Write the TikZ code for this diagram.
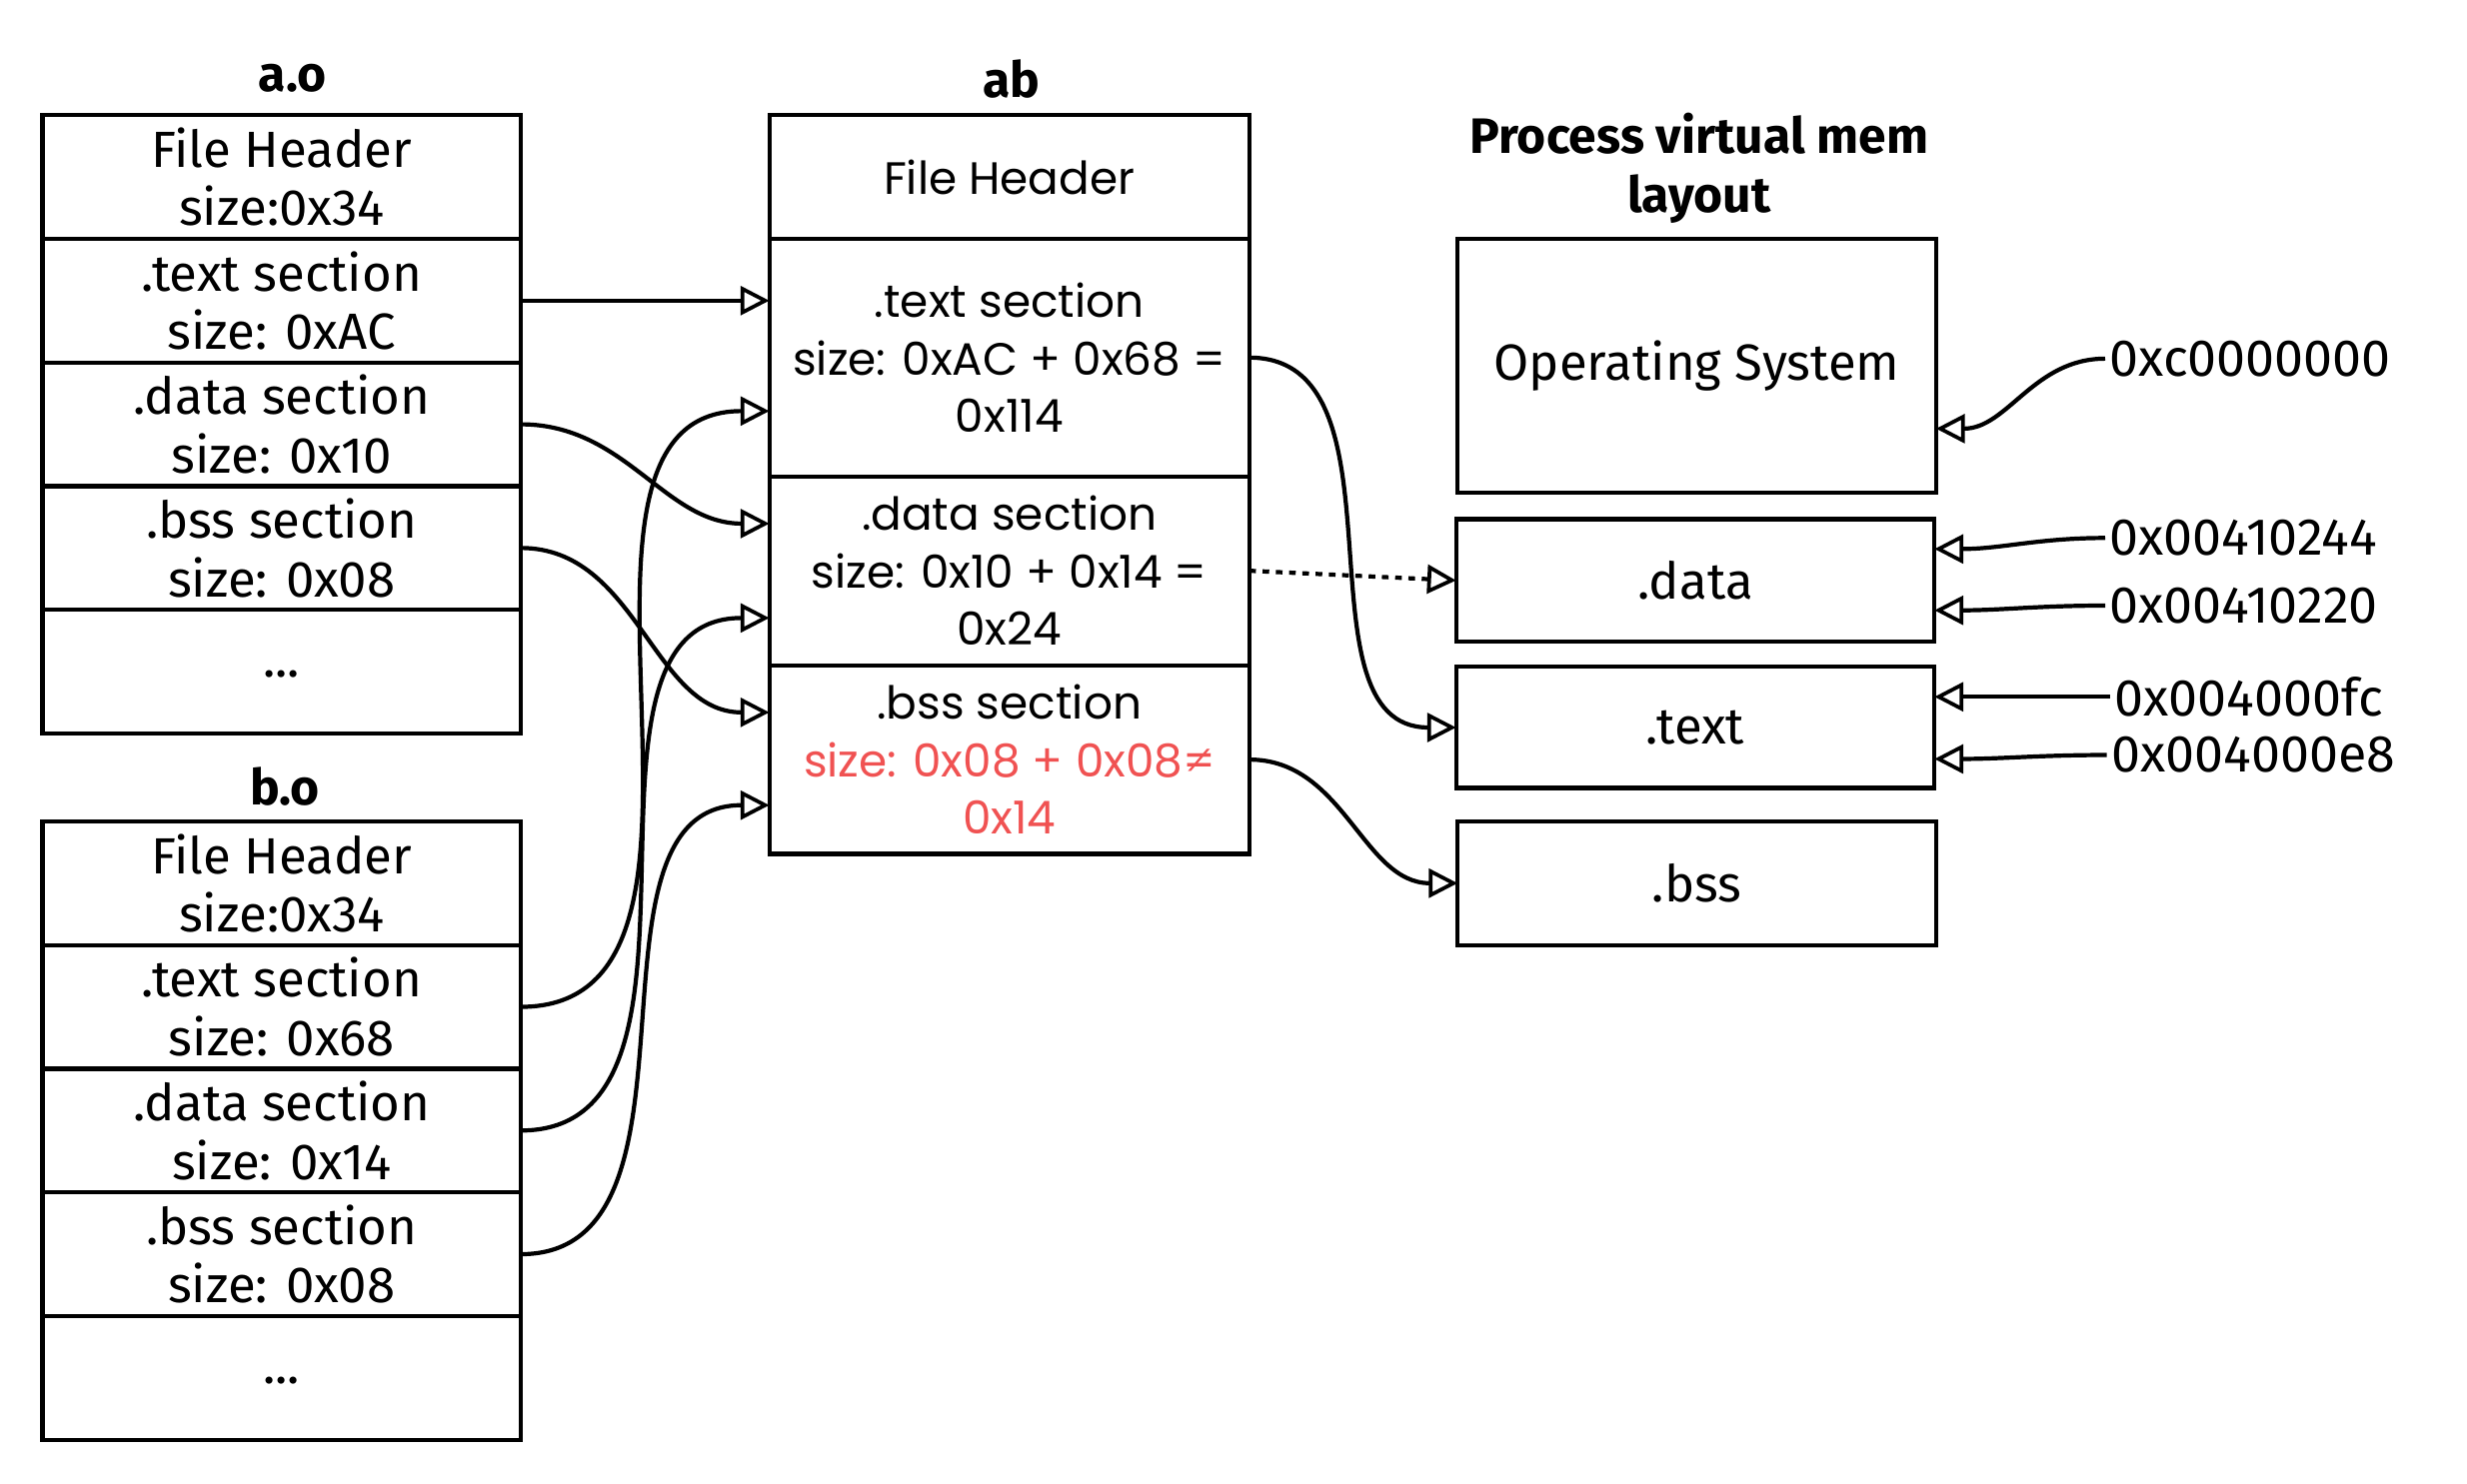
\documentclass[tikz,border=0pt]{standalone}
\usepackage{fontspec}
\setmainfont{Fira Sans}
\newfontfamily\abfont{Poppins}
\usetikzlibrary{arrows.meta,positioning}
\definecolor{warnred}{RGB}{240,82,82}

\tikzset{
  sec/.style={draw, line width=1.9pt, outer sep=0pt, minimum width=7.6cm, minimum height=1.965cm,
    align=center, inner sep=0pt, font=\fontsize{23}{26.5}\selectfont},
  absec/.style={sec, minimum width=7.625cm, font=\abfont\fontsize{20.5}{26}\selectfont},
  vmbox/.style={sec, minimum width=7.6cm},
  title/.style={font=\bfseries\fontsize{22.5}{27}\selectfont, align=center},
  addr/.style={font=\fontsize{23.5}{26}\selectfont, anchor=west, inner sep=2pt},
  conn/.style={line width=1.9pt, -{Triangle[open,length=13pt,width=13pt,line width=1.7pt]}}
}

\begin{document}
\begin{tikzpicture}[x=0.025cm, y=-0.025cm]
\useasboundingbox (0,0) rectangle (1568,943);

% a.o
\node[title] (ao) at (186,50) {a.o};
\node[sec] (ao-head) at (179,112.5) {File Header\\size:0x34};
\node[sec, below=0pt of ao-head] (ao-text) {.text section\\size: 0xAC};
\node[sec, below=0pt of ao-text] (ao-data) {.data section\\size: 0x10};
\node[sec, below=0pt of ao-data] (ao-bss) {.bss section\\size: 0x08};
\node[sec, below=0pt of ao-bss] (ao-more) {\raisebox{-5pt}{...}};

% b.o
\node[title] (bo) at (181,500) {b.o};
\node[sec] (bo-head) at (179,561.5) {File Header\\size:0x34};
\node[sec, below=0pt of bo-head] (bo-text) {.text section\\size: 0x68};
\node[sec, below=0pt of bo-text] (bo-data) {.data section\\size: 0x14};
\node[sec, below=0pt of bo-data] (bo-bss) {.bss section\\size: 0x08};
\node[sec, below=0pt of bo-bss] (bo-more) {\raisebox{-5pt}{...}};

% ab
\node[title] (ab) at (643,50) {ab};
\node[absec] (ab-head) at (641.5,112.5) {File Header};
\node[absec, minimum height=3.775cm, below=0pt of ab-head] (ab-text)
  {.text section\\size: 0xAC + 0x68 =\\0x114};
\node[absec, minimum height=3cm, below=0pt of ab-text] (ab-data)
  {.data section\\size: 0x10 + 0x14 =\\0x24};
\node[absec, minimum height=3cm, below=0pt of ab-data] (ab-bss)
  {.bss section\\\textcolor{warnred}{size: 0x08 + 0x08≠}\\\textcolor{warnred}{0x14}};

% process virtual memory
\node[title] (vm) at (1080,107) {Process virtual mem\\layout};
\node[vmbox, minimum height=4.025cm] (os) at (1078.5,232.5) {Operating System};
\node[vmbox, minimum height=1.95cm] (vm-data) at (1077.5,369) {.data};
\node[vmbox, minimum height=1.925cm] (vm-text) at (1077.5,462.5) {.text};
\node[vmbox] (vm-bss) at (1078.5,561.5) {.bss};

% addresses
\node[addr] (a-os) at (1338,228) {0xc0000000};
\node[addr] (a-dhi) at (1338,342) {0x00410244};
\node[addr] (a-dlo) at (1338,385) {0x00410220};
\node[addr] (a-thi) at (1341,443) {0x004000fc};
\node[addr] (a-tlo) at (1339,480) {0x004000e8};

% links
\draw[conn] (ao-text.east) -- (ao-text.east -| ab-text.west);
\draw[conn] (ao-data.east) to[out=0,in=180] ([shift={(0,-30)}]ab-data.west);
\draw[conn] (ao-bss.east) to[out=0,in=180] ([shift={(0,-30)}]ab-bss.west);
\draw[conn] (bo-text.east) to[out=0,in=180] ([shift={(0,34)}]ab-text.west);
\draw[conn] (bo-data.east) to[out=0,in=180] ([shift={(0,30)}]ab-data.west);
\draw[conn] (bo-bss.east) to[out=0,in=180] ([shift={(0,29)}]ab-bss.west);

\draw[conn] (ab-text.east) to[out=0,in=180] (vm-text.west);
\draw[conn, dashed] (ab-data.east) -- (vm-data.west);
\draw[conn] (ab-bss.east) to[out=0,in=180] (vm-bss.west);

\draw[conn] (a-os.west) to[out=180,in=0] ([shift={(0,40)}]os.east);
\draw[conn] (a-dhi.west) to[out=180,in=0] ([shift={(0,-20)}]vm-data.east);
\draw[conn] (a-dlo.west) to[out=180,in=0] ([shift={(0,19)}]vm-data.east);
\draw[conn] (a-thi.west) -- ([shift={(0,-19.5)}]vm-text.east);
\draw[conn] (a-tlo.west) to[out=180,in=0] ([shift={(0,20)}]vm-text.east);
\end{tikzpicture}
\end{document}
